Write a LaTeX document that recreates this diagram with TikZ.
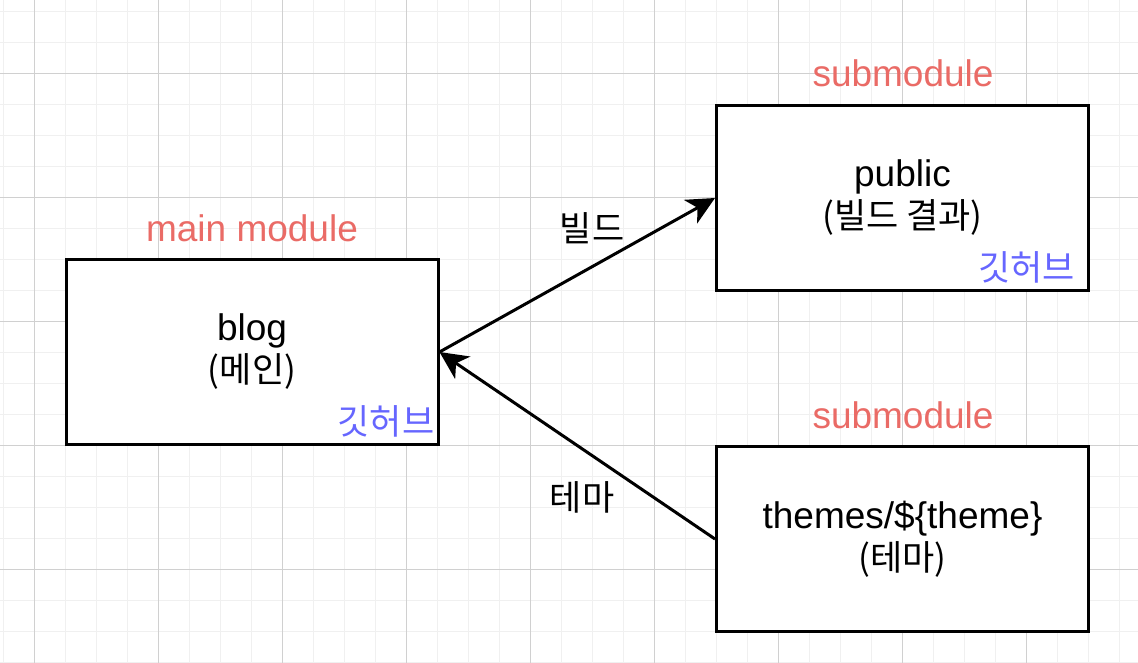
\documentclass[tikz,border=0pt]{standalone}
\usepackage{fontspec}
\setmainfont{Liberation Sans}
\newfontfamily\krfont{Noto Sans CJK KR}
\usetikzlibrary{arrows.meta}
\definecolor{modred}{HTML}{EA6B66}
\definecolor{gitblue}{HTML}{6666FF}
\definecolor{minorgray}{HTML}{F0F0F0}
\definecolor{majorgray}{HTML}{D0D0D0}
\newcommand{\bigtext}{\fontsize{37}{42}\selectfont}
\newcommand{\krtext}{\krfont\fontsize{35}{42}\selectfont}
\tikzset{
  modbox/.style={draw=black,line width=3pt,fill=white,minimum width=372pt,minimum height=185pt,align=center,font=\bigtext,inner sep=0pt},
  modlabel/.style={font=\bigtext,text=modred},
  gitlabel/.style={font=\krtext,text=gitblue,anchor=south east,inner sep=0pt},
  edgelabel/.style={font=\krtext},
  linkarrow/.style={line width=3pt,-{Stealth[length=28pt,width=27pt,inset=8pt]}}
}

\begin{document}
\begin{tikzpicture}[x=1pt,y=-1pt]
\useasboundingbox (0,0) rectangle (1138,662);
\clip (0,0) rectangle (1138,662);
\fill[white] (0,0) rectangle (1138,662);
% background grid
\begin{scope}[shift={(3.3,11.3)}]
\draw[minorgray,line width=1.5pt,step=31pt] (-40,-40) grid (1180,700);
\end{scope}
\begin{scope}[shift={(34.3,73.3)}]
\draw[majorgray,line width=1pt,step=124pt] (-130,-130) grid (1150,700);
\end{scope}

% modules
\node[modbox] (blog) at (252,352) {blog\\{\krtext (메인)}};
\node[modbox] (public) at (902.5,198) {public\\{\krtext (빌드 결과)}};
\node[modbox] (themes) at (902.5,539) {themes/\$\{theme\}\\{\krtext (테마)}};

\node[modlabel] (mainlbl) at (252,228) {main module};
\node[modlabel] (publiclbl) at (903,73) {submodule};
\node[modlabel] (themeslbl) at (903,415) {submodule};

\node[gitlabel] (bloggit) at ([shift={(-5,-9)}]blog.south east) {깃허브};
\node[gitlabel] (publicgit) at ([shift={(-15,-9)}]public.south east) {깃허브};

\draw[linkarrow] (blog.east) -- (public.west);
\draw[linkarrow] (themes.west) -- (blog.east);
\node[edgelabel] (buildlbl) at (592,228) {빌드};
\node[edgelabel] (themelbl) at (582,497) {테마};

\end{tikzpicture}
\end{document}
